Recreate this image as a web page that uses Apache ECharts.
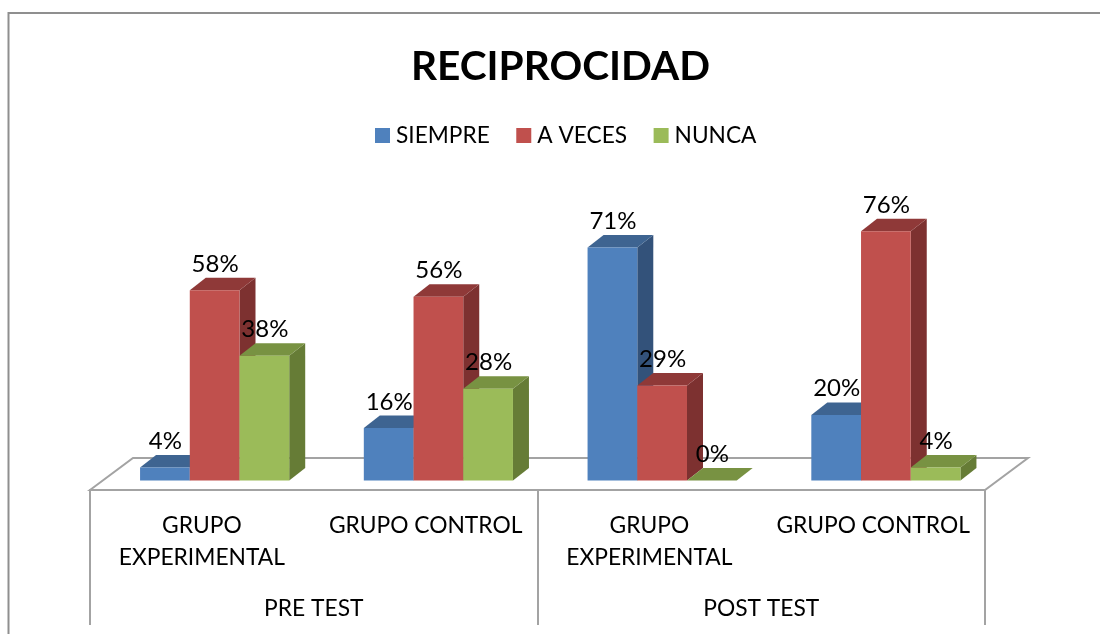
<!DOCTYPE html>
<html>
<head>
<meta charset="utf-8">
<title>RECIPROCIDAD</title>
<script src="https://cdn.jsdelivr.net/npm/echarts@6/dist/echarts.min.js"></script>
<style>
  html, body { margin: 0; padding: 0; background: #fff; }
  #main { width: 1100px; height: 634px; }
</style>
</head>
<body>
<div id="main"></div>
<script>
const categories = ['GRUPO\nEXPERIMENTAL', 'GRUPO CONTROL', 'GRUPO\nEXPERIMENTAL', 'GRUPO CONTROL'];
const stages = ['PRE TEST', 'POST TEST'];
const siempre = [4, 16, 71, 20];
const aVeces = [58, 56, 29, 76];
const nunca = [38, 28, 0, 4];

const fontName = 'Lato, Carlito, sans-serif';
const gridLine = '#a3a3a3';
const depthX = 16;      // bar depth on screen
const depthY = 12.5;
const floorX = 43;      // floor depth on screen
const floorY = 32;
const floorLift = 9.5;  // bars stand this far behind the floor's front edge
const barShare = 0.2222; // bar width as a share of the band

// front, top, side
const blueFaces = ['#4f81bd', '#3e6491', '#33527a'];
const redFaces = ['#c0504d', '#8f3938', '#7d3130'];
const greenFaces = ['#9bbb59', '#789242', '#667c36'];

function bar3d(slot, faces) {
  return function (params, api) {
    const idx = api.value(0);
    const val = api.value(1);
    const base = api.coord([idx, 0]);
    const top = api.coord([idx, val]);
    const w = api.size([1, 0])[0] * barShare;
    const cx = base[0] + floorLift * floorX / floorY + slot * w;
    const x0 = cx - w / 2;
    const x1 = cx + w / 2;
    const yb = base[1];
    const yt = top[1];
    return {
      type: 'group',
      children: [
        { type: 'polygon', shape: { points: [[x1, yb], [x1 + depthX, yb - depthY], [x1 + depthX, yt - depthY], [x1, yt]] }, style: { fill: faces[2] } },
        { type: 'polygon', shape: { points: [[x0, yt], [x0 + depthX, yt - depthY], [x1 + depthX, yt - depthY], [x1, yt]] }, style: { fill: faces[1] } },
        { type: 'rect', shape: { x: x0, y: yt, width: w, height: yb - yt }, style: { fill: faces[0] } },
        {
          type: 'text', z2: 10,
          style: { text: val + '%', x: cx + 0.5, y: yt - 26.2, align: 'center', verticalAlign: 'middle', fontSize: 24, fontFamily: fontName, fill: '#000' }
        }
      ]
    };
  };
}

function floor(params) {
  const c = params.coordSys;
  const y = c.y + c.height + floorLift;
  return {
    type: 'polygon',
    shape: { points: [[c.x, y], [c.x + floorX, y - floorY], [c.x + c.width + floorX, y - floorY], [c.x + c.width, y]] },
    style: { fill: '#fff', stroke: gridLine, lineWidth: 2 }
  };
}

function barSeries(name, values, slot, faces) {
  return {
    name: name,
    type: 'custom',
    renderItem: bar3d(slot, faces),
    itemStyle: { color: faces[0] },
    encode: { x: 0, y: 1 },
    data: values.map((v, i) => [i, v]),
    z: 3,
    silent: true
  };
}

const chart = echarts.init(document.getElementById('main'));
chart.setOption({
  animation: false,
  backgroundColor: '#fff',
  title: {
    text: 'RECIPROCIDAD',
    left: 555.5, top: 41, textAlign: 'center',
    textStyle: { fontFamily: fontName, fontSize: 40.6, fontWeight: 'bold', color: '#000' }
  },
  legend: {
    data: ['SIEMPRE', 'A VECES', 'NUNCA'],
    left: 370, top: 119,
    icon: 'rect',
    itemWidth: 15, itemHeight: 15, itemGap: 26.5,
    textStyle: { fontFamily: fontName, fontSize: 22.7, color: '#000', padding: [0, 0, 0, 1] }
  },
  graphic: [{
    type: 'rect',
    shape: { x: 8.5, y: 13, width: 1200, height: 800 },
    style: { fill: 'none', stroke: '#8f8f8f', lineWidth: 2 },
    silent: true
  }],
  grid: { left: 90, width: 895, top: 218.1, height: 262.4 },
  yAxis: { type: 'value', min: 0, max: 80, show: false },
  xAxis: [
    {
      type: 'category', data: categories, position: 'bottom', offset: floorLift,
      axisLine: { show: false }, axisTick: { show: false },
      axisLabel: { interval: 0, hideOverlap: false, margin: 19.5, lineHeight: 32, verticalAlign: 'top', fontFamily: fontName, fontSize: 22.8, color: '#000' }
    },
    {
      type: 'category', data: stages, position: 'bottom', offset: floorLift,
      axisLine: { show: true, lineStyle: { color: gridLine, width: 2 } },
      axisTick: { show: true, length: 135, lineStyle: { color: gridLine, width: 2 } },
      axisLabel: { interval: 0, margin: 107, verticalAlign: 'top', fontFamily: fontName, fontSize: 22.8, color: '#000' }
    }
  ],
  series: [
    { type: 'custom', renderItem: floor, data: [[0, 0]], silent: true, z: 1, encode: { x: 0, y: 1 } },
    barSeries('SIEMPRE', siempre, -1, blueFaces),
    barSeries('A VECES', aVeces, 0, redFaces),
    barSeries('NUNCA', nunca, 1, greenFaces)
  ]
});
</script>
</body>
</html>
